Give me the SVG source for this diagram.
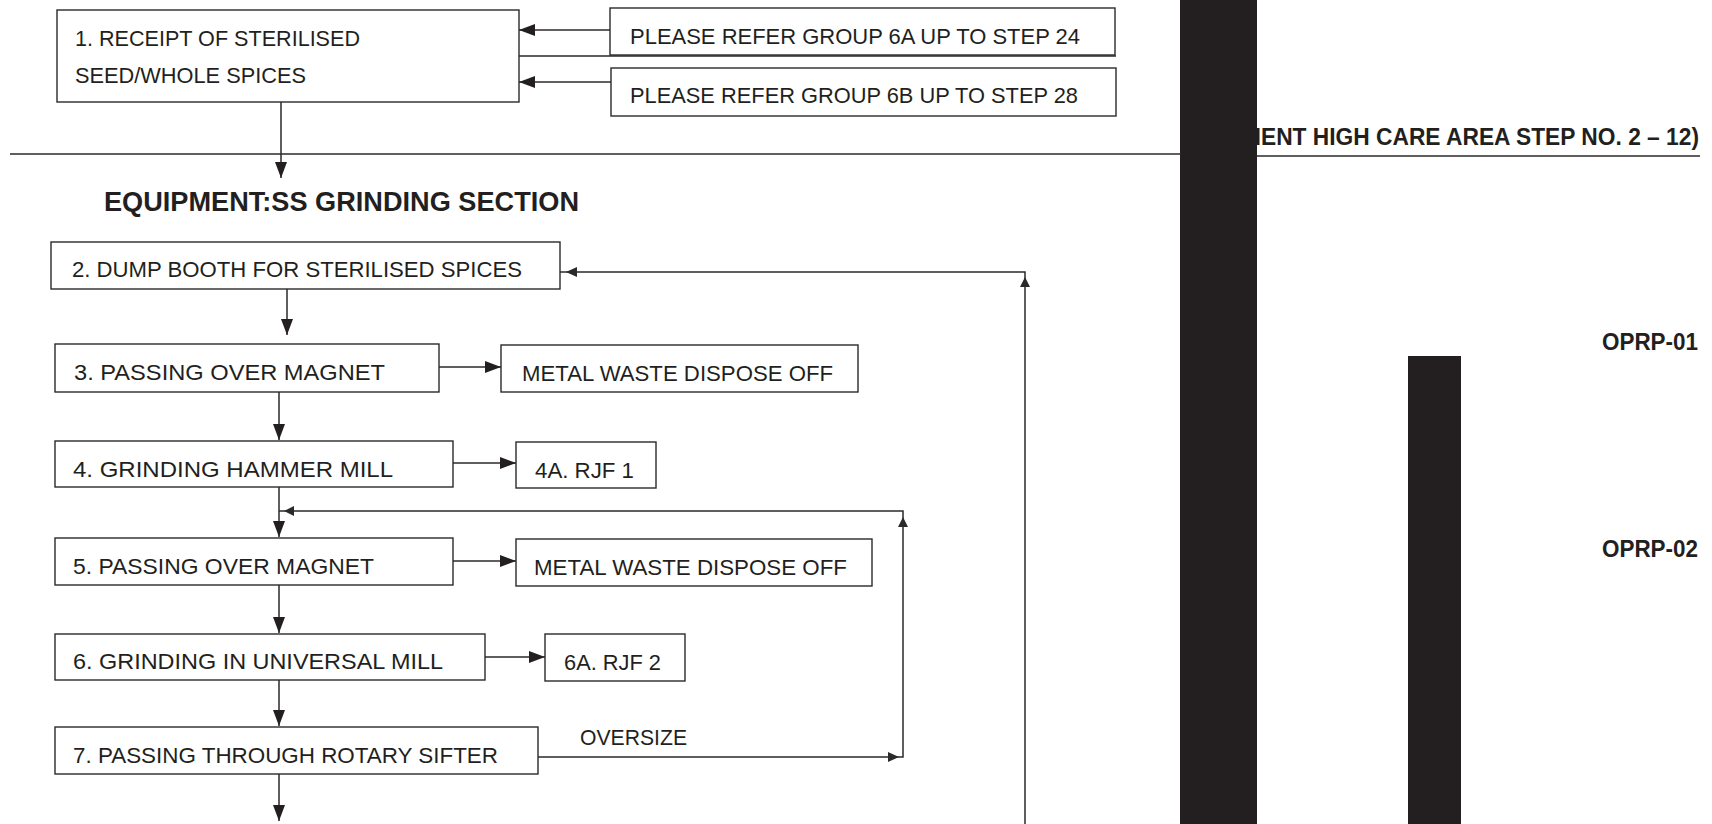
<svg xmlns="http://www.w3.org/2000/svg" width="1712" height="824" viewBox="0 0 1712 824">
<style>
.box{fill:#fff;stroke:#2a2a2a;stroke-width:1.4}
.t{font-family:"Liberation Sans",Arial,sans-serif;font-size:22px;fill:#231f20}
.b{font-family:"Liberation Sans",Arial,sans-serif;font-weight:bold;fill:#231f20}
.ln{fill:none;stroke:#2a2a2a;stroke-width:1.5}
.sm{fill:#2a2a2a;stroke:none}
.bar{fill:#231f20}
</style>
<defs>
<marker id="ah" markerUnits="userSpaceOnUse" markerWidth="16" markerHeight="12" refX="16" refY="6" orient="auto">
<path d="M0,0 L16,6 L0,12 z" fill="#231f20"/>
</marker>
</defs>
<rect width="1712" height="824" fill="#fff"/>

<g id="title">
<text class="b" x="1242" y="145" font-size="23" textLength="457" lengthAdjust="spacingAndGlyphs">MENT HIGH CARE AREA STEP NO. 2 – 12)</text>
</g>

<g id="bars">
<rect class="bar" x="1180" y="0" width="77" height="824"/>
<rect class="bar" x="1408" y="356" width="53" height="468"/>
</g>

<g id="connectors">
<line class="ln" x1="610" y1="30" x2="519" y2="30" marker-end="url(#ah)"/>
<line class="ln" x1="611" y1="82" x2="519" y2="82" marker-end="url(#ah)"/>
<line class="ln" x1="517" y1="56" x2="1116" y2="56" stroke-width="2.2"/>
<line class="ln" x1="10" y1="154" x2="1181" y2="154"/>
<line class="ln" x1="1257" y1="156" x2="1700" y2="156" stroke-width="2.4"/>
<line class="ln" x1="281" y1="102" x2="281" y2="178" marker-end="url(#ah)"/>
<line class="ln" x1="287" y1="289" x2="287" y2="335" marker-end="url(#ah)"/>
<line class="ln" x1="439" y1="367" x2="501" y2="367" marker-end="url(#ah)"/>
<line class="ln" x1="279" y1="392" x2="279" y2="440" marker-end="url(#ah)"/>
<line class="ln" x1="453" y1="463" x2="516" y2="463" marker-end="url(#ah)"/>
<line class="ln" x1="279" y1="487" x2="279" y2="537" marker-end="url(#ah)"/>
<line class="ln" x1="453" y1="561" x2="516" y2="561" marker-end="url(#ah)"/>
<line class="ln" x1="279" y1="585" x2="279" y2="633" marker-end="url(#ah)"/>
<line class="ln" x1="485" y1="657" x2="545" y2="657" marker-end="url(#ah)"/>
<line class="ln" x1="279" y1="680" x2="279" y2="726" marker-end="url(#ah)"/>
<line class="ln" x1="279" y1="774" x2="279" y2="821" marker-end="url(#ah)"/>
<path class="ln" d="M538,757 H903 V511 H279"/>
<path class="ln" d="M1025,824 V272 H560"/>
<path class="sm" d="M899,757 L888,752 L888,762 z"/>
<path class="sm" d="M903,517 L898,527 L908,527 z"/>
<path class="sm" d="M284,511 L294,506 L294,516 z"/>
<path class="sm" d="M566,272 L577,267 L577,277 z"/>
<path class="sm" d="M1025,277 L1020,287 L1030,287 z"/>
<text class="t" x="580" y="745" textLength="107" lengthAdjust="spacingAndGlyphs">OVERSIZE</text>
</g>

<g id="n1">
<rect class="box" x="57" y="10" width="462" height="92"/>
<text class="t" x="75" y="46" textLength="285" lengthAdjust="spacingAndGlyphs">1. RECEIPT OF STERILISED</text>
<text class="t" x="75" y="83" textLength="231" lengthAdjust="spacingAndGlyphs">SEED/WHOLE SPICES</text>
</g>
<g id="n6a">
<rect class="box" x="610" y="8" width="505" height="47"/>
<text class="t" x="630" y="44" textLength="450" lengthAdjust="spacingAndGlyphs">PLEASE REFER GROUP 6A UP TO STEP 24</text>
</g>
<g id="n6b">
<rect class="box" x="611" y="68" width="505" height="48"/>
<text class="t" x="630" y="103" textLength="448" lengthAdjust="spacingAndGlyphs">PLEASE REFER GROUP 6B UP TO STEP 28</text>
</g>
<g id="section">
<text class="b" x="104" y="211" font-size="27" textLength="475" lengthAdjust="spacingAndGlyphs">EQUIPMENT:SS GRINDING SECTION</text>
</g>
<g id="n2">
<rect class="box" x="51" y="242" width="509" height="47"/>
<text class="t" x="72" y="277" textLength="450" lengthAdjust="spacingAndGlyphs">2. DUMP BOOTH FOR STERILISED SPICES</text>
</g>
<g id="n3">
<rect class="box" x="55" y="344" width="384" height="48"/>
<text class="t" x="74" y="380" textLength="311" lengthAdjust="spacingAndGlyphs">3. PASSING OVER MAGNET</text>
</g>
<g id="n3a">
<rect class="box" x="501" y="345" width="357" height="47"/>
<text class="t" x="522" y="381" textLength="311" lengthAdjust="spacingAndGlyphs">METAL WASTE DISPOSE OFF</text>
</g>
<g id="n4">
<rect class="box" x="55" y="441" width="398" height="46"/>
<text class="t" x="73" y="477" textLength="320" lengthAdjust="spacingAndGlyphs">4. GRINDING HAMMER MILL</text>
</g>
<g id="n4a">
<rect class="box" x="516" y="442" width="140" height="46"/>
<text class="t" x="535" y="478" textLength="99" lengthAdjust="spacingAndGlyphs">4A. RJF 1</text>
</g>
<g id="n5">
<rect class="box" x="55" y="538" width="398" height="47"/>
<text class="t" x="73" y="574" textLength="301" lengthAdjust="spacingAndGlyphs">5. PASSING OVER MAGNET</text>
</g>
<g id="n5a">
<rect class="box" x="516" y="539" width="356" height="47"/>
<text class="t" x="534" y="575" textLength="313" lengthAdjust="spacingAndGlyphs">METAL WASTE DISPOSE OFF</text>
</g>
<g id="n6">
<rect class="box" x="55" y="634" width="430" height="46"/>
<text class="t" x="73" y="669" textLength="370" lengthAdjust="spacingAndGlyphs">6. GRINDING IN UNIVERSAL MILL</text>
</g>
<g id="n6r">
<rect class="box" x="545" y="634" width="140" height="47"/>
<text class="t" x="564" y="670" textLength="97" lengthAdjust="spacingAndGlyphs">6A. RJF 2</text>
</g>
<g id="n7">
<rect class="box" x="55" y="727" width="483" height="47"/>
<text class="t" x="73" y="763" textLength="425" lengthAdjust="spacingAndGlyphs">7. PASSING THROUGH ROTARY SIFTER</text>
</g>
<g id="oprp">
<text class="b" x="1602" y="350" font-size="23" textLength="96" lengthAdjust="spacingAndGlyphs">OPRP-01</text>
<text class="b" x="1602" y="557" font-size="23" textLength="96" lengthAdjust="spacingAndGlyphs">OPRP-02</text>
</g>
</svg>
